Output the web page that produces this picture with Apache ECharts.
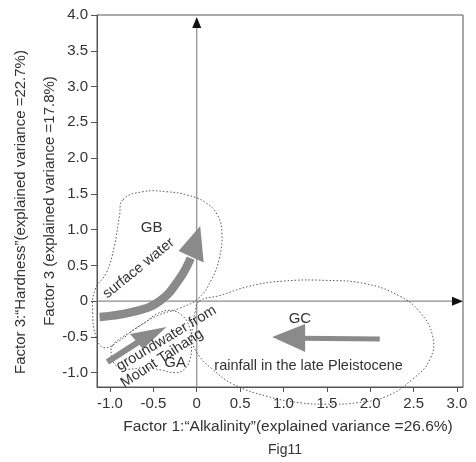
<!DOCTYPE html>
<html><head><meta charset="utf-8">
<script src="https://cdn.jsdelivr.net/npm/echarts@6/dist/echarts.min.js"></script>
<style>html,body{margin:0;padding:0;background:#fff}#c{width:476px;height:462px}</style>
</head><body><div id="c"></div>
<script>
// ---- data ----
const xTicks = [-1.0, -0.5, 0, 0.5, 1.0, 1.5, 2.0, 2.5, 3.0];
const yTicks = [-1.0, -0.5, 0, 0.5, 1.0, 1.5, 2.0, 2.5, 3.0, 3.5, 4.0];
const xRange = [-1.15, 3.07];
const yRange = [-1.2, 4.0];

// group outlines (factor scores)
const groupGB = [[-0.85,1.42],[-0.62,1.53],[-0.35,1.53],[-0.1,1.48],[0.1,1.38],[0.24,1.2],[0.29,0.95],[0.26,0.6],[0.17,0.3],[0.02,0.04],[-0.2,-0.1],[-0.45,-0.2],[-0.7,-0.38],[-0.9,-0.56],[-1.07,-0.65],[-1.16,-0.5],[-1.2,-0.15],[-1.17,0.17],[-1.04,0.4],[-0.95,0.77],[-0.89,1.2]];
const groupGA = [[-0.97,-0.62],[-0.78,-0.44],[-0.6,-0.3],[-0.46,-0.18],[-0.3,-0.13],[-0.16,-0.21],[-0.08,-0.38],[-0.06,-0.6],[-0.08,-0.82],[-0.15,-0.96],[-0.26,-1.0],[-0.42,-0.96],[-0.6,-0.93],[-0.8,-0.95],[-0.93,-0.9],[-0.98,-0.77]];
const groupGC = [[0.03,0.0],[0.27,0.08],[0.61,0.21],[0.99,0.28],[1.5,0.29],[1.96,0.24],[2.34,0.07],[2.57,-0.15],[2.72,-0.49],[2.69,-0.81],[2.49,-1.09],[2.19,-1.33],[1.85,-1.42],[1.5,-1.44],[1.19,-1.42],[0.81,-1.33],[0.42,-1.16],[0.18,-0.95],[0.03,-0.77],[-0.05,-0.57],[-0.05,-0.36],[-0.02,-0.16]];

// trend arrows
const surfaceShaft = [[-1.12,-0.22],[-0.74,-0.15],[-0.43,0.0],[-0.2,0.31],[-0.07,0.6]];
const surfaceHead = [[0.04,1.05],[-0.21,0.70],[0.08,0.54]];
const groundShaft = [[-1.03,-0.85],[-0.62,-0.53]];
const groundHead = [[-0.35,-0.36],[-0.77,-0.46],[-0.62,-0.67]];
const rainShaft = [[2.11,-0.53],[1.2,-0.52]];
const rainHead = [[0.87,-0.5],[1.25,-0.32],[1.25,-0.71]];

// annotations
const annText = ['GB', 'surface water', 'groundwater from', 'Mount Taihang', 'GA', 'GC', 'rainfall in the late Pleistocene'];
const annPos = [[-0.52,1.02],[-0.67,0.46],[-0.35,-0.52],[-0.4,-0.8],[-0.25,-0.86],[1.19,-0.25],[1.29,-0.91]];
const annRot = [0, 39, 31, 33, 0, 0, 0];
const annSize = [15, 14.5, 14.5, 14.5, 15, 15, 14.5];

// origin axes
const vAxisLine = [[0, -1.2], [0, 4.0]];
const hAxisLine = [[-1.15, 0], [3.07, 0]];

// ---- chart ----
const FONT = 'Arial, "Liberation Sans", sans-serif';
const TXT = '#333';
const GREY = '#8a8a8a';

function fmt(v){ return v === 0 ? '0' : v.toFixed(1); }

function outline(pts){
  return {
    type: 'custom', coordinateSystem: 'cartesian2d', data: [[0,0]], clip: false, silent: true,
    renderItem: function(params, api){
      return { type: 'polygon', shape: { points: pts.map(p => api.coord(p)), smooth: 0.45 },
        style: { fill: null, stroke: '#444', lineWidth: 0.9, lineDash: [1.5, 2] } };
    }
  };
}
function arrow(shaft, head, width, smooth){
  return {
    type: 'custom', coordinateSystem: 'cartesian2d', data: [[0,0]], clip: false, silent: true,
    renderItem: function(params, api){
      return { type: 'group', children: [
        { type: 'polyline', shape: { points: shaft.map(p => api.coord(p)), smooth: smooth },
          style: { fill: null, stroke: GREY, lineWidth: width, lineCap: 'butt' } },
        { type: 'polygon', shape: { points: head.map(p => api.coord(p)) }, style: { fill: GREY } }
      ]};
    }
  };
}

const series = [];
series.push({
  type: 'custom', coordinateSystem: 'cartesian2d', data: [[0,0]], clip: false, silent: true, z: 1,
  renderItem: function(params, api){
    const v0 = api.coord(vAxisLine[0]), v1 = api.coord(vAxisLine[1]);
    const h0 = api.coord(hAxisLine[0]), h1 = api.coord(hAxisLine[1]);
    const vt = [v1[0], v1[1] + 2], ht = [h1[0], h1[1]];
    return { type: 'group', children: [
      { type: 'line', shape: { x1: v0[0], y1: v0[1], x2: vt[0], y2: vt[1] + 6 }, style: { stroke: '#8c8c8c', lineWidth: 1.2 } },
      { type: 'line', shape: { x1: h0[0], y1: h0[1], x2: ht[0] - 6, y2: ht[1] }, style: { stroke: '#8c8c8c', lineWidth: 1.2 } },
      { type: 'polygon', shape: { points: [vt, [vt[0]-4.5, vt[1]+11], [vt[0]+4.5, vt[1]+11]] }, style: { fill: '#111' } },
      { type: 'polygon', shape: { points: [ht, [ht[0]-11, ht[1]-4.5], [ht[0]-11, ht[1]+4.5]] }, style: { fill: '#111' } }
    ]};
  }
});
series.push(outline(groupGB), outline(groupGA), outline(groupGC));
series.push(arrow(surfaceShaft, surfaceHead, 8.5, 0.45));
series.push(arrow(groundShaft, groundHead, 6, 0));
series.push(arrow(rainShaft, rainHead, 5, 0));
series.push({
  type: 'custom', coordinateSystem: 'cartesian2d', data: annPos.map((p, i) => [p[0], p[1], i]), clip: false, silent: true,
  renderItem: function(params, api){
    const i = api.value(2);
    const c = api.coord([api.value(0), api.value(1)]);
    return { type: 'text', x: c[0], y: c[1], rotation: annRot[i] * Math.PI / 180,
      style: { text: annText[i], fill: TXT, font: annSize[i] + 'px ' + FONT, align: 'center', verticalAlign: 'middle' } };
  }
});

const chart = echarts.init(document.getElementById('c'), null, { renderer: 'canvas' });
chart.setOption({
  animation: false,
  backgroundColor: '#fff',
  grid: { left: 97, top: 15, right: 13, bottom: 75, show: true, borderColor: '#555', borderWidth: 1 },
  xAxis: {
    type: 'value', min: xRange[0], max: xRange[1],
    axisLine: { show: true, onZero: false, lineStyle: { color: '#555', width: 1 } },
    axisTick: { show: true, inside: false, length: 5, customValues: xTicks, lineStyle: { color: '#555' } },
    axisLabel: { customValues: xTicks, formatter: fmt, margin: 9, color: TXT, fontSize: 15, fontFamily: FONT },
    splitLine: { show: false }
  },
  yAxis: {
    type: 'value', min: yRange[0], max: yRange[1],
    name: 'Factor 3 (explained variance =17.8%)', nameLocation: 'middle', nameGap: 40, nameMoveOverlap: false,
    nameTextStyle: { color: TXT, fontSize: 15, fontFamily: FONT },
    axisLine: { show: true, onZero: false, lineStyle: { color: '#555', width: 1 } },
    axisTick: { show: true, inside: false, length: 6, customValues: yTicks, lineStyle: { color: '#555' } },
    axisLabel: { customValues: yTicks, formatter: fmt, margin: 9, color: TXT, fontSize: 15, fontFamily: FONT },
    splitLine: { show: false }
  },
  graphic: [
    { type: 'text', x: 21, y: 212, rotation: Math.PI / 2,
      style: { text: 'Factor 3:“Hardness”(explained variance =22.7%)', fill: TXT, font: '15px ' + FONT, align: 'center', verticalAlign: 'middle' } },
    { type: 'text', x: 288, y: 427,
      style: { text: 'Factor 1:“Alkalinity”(explained variance =26.6%)', fill: TXT, font: '15.5px ' + FONT, align: 'center', verticalAlign: 'middle' } },
    { type: 'text', x: 285, y: 450,
      style: { text: 'Fig11', fill: TXT, font: '14px ' + FONT, align: 'center', verticalAlign: 'middle' } }
  ],
  series: series
});
</script>
</body></html>
